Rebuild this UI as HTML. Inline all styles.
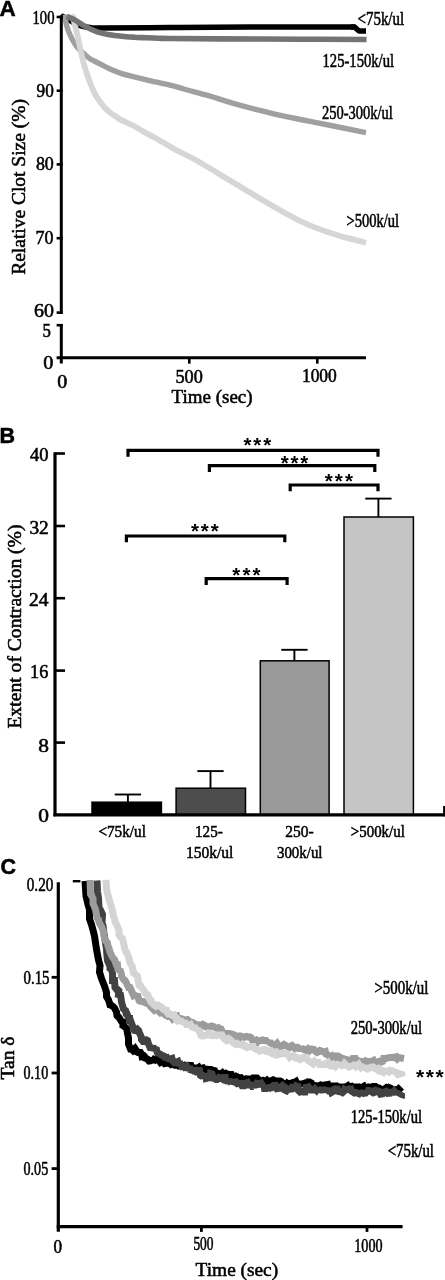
<!DOCTYPE html>
<html lang="en"><head><meta charset="utf-8"><title>Figure</title>
<style>html,body{margin:0;padding:0;background:#fff;overflow:hidden}svg{display:block;filter:grayscale(1) blur(0.35px)}</style></head><body>
<svg width="445" height="1280" viewBox="0 0 445 1280">
<rect width="445" height="1280" fill="#fff"/>
<g id="panelA">
<path d="M63.0,16.5 C64.2,17.2 67.8,19.2 70.0,20.5 C72.2,21.8 74.0,23.1 76.0,24.0 C78.0,24.9 79.7,25.6 82.0,26.2 C84.3,26.8 87.0,27.3 90.0,27.6 C93.0,27.9 86.7,28.0 100.0,28.0 C113.3,28.0 145.0,27.8 170.0,27.6 C195.0,27.4 219.3,27.1 250.0,27.0 C280.7,26.9 336.7,27.0 354.0,27.0" fill="none" stroke="#000" stroke-width="5.5" stroke-linecap="round" stroke-linejoin="round"/>
<polyline points="351.0,27.0 354.5,27.0 359.0,31.0 366.0,31.0" fill="none" stroke="#000" stroke-width="5.5" stroke-linejoin="round" stroke-linecap="butt"/>
<path d="M65.0,16.5 C65.2,17.9 65.7,22.0 66.5,25.0 C67.3,28.0 68.3,31.3 69.9,34.7 C71.5,38.1 73.5,42.2 76.0,45.5 C78.5,48.8 82.4,52.2 84.7,54.4 C87.0,56.6 87.9,57.4 90.0,58.7 C92.1,60.1 93.9,60.8 97.1,62.5 C100.3,64.2 105.3,66.9 109.4,68.7 C113.5,70.5 117.7,72.2 121.8,73.6 C125.9,74.9 130.1,75.8 134.2,76.8 C138.3,77.8 142.4,78.8 146.5,79.8 C150.6,80.8 155.0,81.8 158.9,82.7 C162.8,83.6 165.8,84.0 170.0,85.1 C174.2,86.1 177.4,87.2 183.8,89.0 C190.2,90.8 200.2,93.3 208.5,95.7 C216.8,98.1 225.1,101.0 233.3,103.4 C241.6,105.8 250.2,108.0 258.0,110.0 C265.8,112.0 271.6,113.5 280.3,115.4 C289.0,117.3 295.7,118.4 310.0,121.3 C324.3,124.2 356.7,130.7 366.0,132.6" fill="none" stroke="#a0a0a0" stroke-width="5.4" stroke-linecap="butt" stroke-linejoin="round"/>
<circle cx="65" cy="17" r="2.7" fill="#a0a0a0"/>
<path d="M72.8,16.5 C72.9,17.1 72.8,17.0 73.6,20.0 C74.3,23.0 76.1,29.4 77.3,34.7 C78.5,40.0 79.8,46.6 81.0,52.0 C82.2,57.4 83.2,62.0 84.7,66.9 C86.2,71.9 88.0,77.2 89.7,81.7 C91.4,86.2 93.2,90.5 94.9,93.8 C96.6,97.1 98.2,99.2 99.9,101.5 C101.6,103.8 103.2,105.9 104.8,107.7 C106.4,109.5 108.1,111.0 109.8,112.3 C111.5,113.6 113.0,114.7 114.7,115.8 C116.4,116.9 118.1,118.1 119.7,119.1 C121.3,120.0 122.9,120.7 124.6,121.5 C126.2,122.3 128.0,123.2 129.6,124.0 C131.2,124.8 131.4,124.6 134.0,126.0 C136.6,127.4 141.5,130.5 145.0,132.5 C148.5,134.5 151.7,136.0 155.0,137.8 C158.3,139.7 161.7,141.7 165.0,143.6 C168.3,145.5 172.5,148.1 175.0,149.5 C177.5,150.9 177.5,150.8 180.0,152.0 C182.5,153.2 186.7,155.3 190.0,157.0 C193.3,158.7 195.0,159.5 200.0,162.4 C205.0,165.3 213.3,170.4 220.0,174.4 C226.7,178.4 233.3,182.4 240.0,186.4 C246.7,190.4 253.3,194.6 260.0,198.6 C266.7,202.6 273.3,206.5 280.0,210.2 C286.7,213.9 293.3,217.8 300.0,221.0 C306.7,224.2 313.3,226.9 320.0,229.4 C326.7,231.9 335.2,234.5 340.0,236.0 C344.8,237.5 344.7,237.3 349.0,238.4 C353.3,239.5 363.2,242.0 366.0,242.7" fill="none" stroke="#d6d6d6" stroke-width="5.8" stroke-linecap="butt" stroke-linejoin="round"/>
<circle cx="72.9" cy="17" r="2.9" fill="#d6d6d6"/>
<path d="M66.5,16.6 C67.1,16.8 68.6,17.2 70.0,17.8 C71.4,18.4 72.3,18.5 74.8,19.9 C77.2,21.3 81.0,24.1 84.7,26.1 C88.4,28.1 93.0,30.4 97.1,31.8 C101.2,33.2 105.3,34.0 109.4,34.7 C113.5,35.4 117.7,35.8 121.8,36.2 C125.9,36.6 130.1,36.9 134.2,37.2 C138.3,37.5 142.4,37.6 146.5,37.8 C150.6,38.0 155.0,38.2 158.9,38.3 C162.8,38.4 159.8,38.4 170.0,38.5 C180.2,38.6 198.3,38.8 220.0,38.9 C241.7,39.0 275.6,39.1 300.0,39.2 C324.4,39.3 355.5,39.5 366.6,39.5" fill="none" stroke="#747474" stroke-width="5.6" stroke-linecap="butt" stroke-linejoin="round"/>
<line x1="61.3" y1="15.5" x2="61.3" y2="314" stroke="#000" stroke-width="3" stroke-linecap="butt"/>
<line x1="61.3" y1="324" x2="61.3" y2="363.5" stroke="#000" stroke-width="3" stroke-linecap="butt"/>
<line x1="56.6" y1="357.8" x2="366" y2="357.8" stroke="#000" stroke-width="3" stroke-linecap="butt"/>
<line x1="56.6" y1="17" x2="62.8" y2="17" stroke="#000" stroke-width="2.6" stroke-linecap="butt"/>
<line x1="56.6" y1="90.7" x2="62.8" y2="90.7" stroke="#000" stroke-width="2.6" stroke-linecap="butt"/>
<line x1="56.6" y1="164.4" x2="62.8" y2="164.4" stroke="#000" stroke-width="2.6" stroke-linecap="butt"/>
<line x1="56.6" y1="238.2" x2="62.8" y2="238.2" stroke="#000" stroke-width="2.6" stroke-linecap="butt"/>
<line x1="56.6" y1="312.6" x2="62.8" y2="312.6" stroke="#000" stroke-width="2.6" stroke-linecap="butt"/>
<line x1="56.6" y1="325.2" x2="62.8" y2="325.2" stroke="#000" stroke-width="2.6" stroke-linecap="butt"/>
<line x1="189.3" y1="357" x2="189.3" y2="363.7" stroke="#000" stroke-width="2.6" stroke-linecap="butt"/>
<line x1="317.3" y1="357" x2="317.3" y2="363.7" stroke="#000" stroke-width="2.6" stroke-linecap="butt"/>
<text x="32.56" y="23.8" font-size="18.5" font-family='"Liberation Serif", serif' font-weight="normal" stroke="#000" stroke-width="0.55" textLength="21.93" lengthAdjust="spacingAndGlyphs">100</text>
<text x="36.58" y="97.0" font-size="18.5" font-family='"Liberation Serif", serif' font-weight="normal" stroke="#000" stroke-width="0.55" textLength="17.20" lengthAdjust="spacingAndGlyphs">90</text>
<text x="35.88" y="170.3" font-size="18.5" font-family='"Liberation Serif", serif' font-weight="normal" stroke="#000" stroke-width="0.55" textLength="17.93" lengthAdjust="spacingAndGlyphs">80</text>
<text x="35.43" y="244.1" font-size="18.5" font-family='"Liberation Serif", serif' font-weight="normal" stroke="#000" stroke-width="0.55" textLength="17.99" lengthAdjust="spacingAndGlyphs">70</text>
<text x="34.10" y="317.0" font-size="18.5" font-family='"Liberation Serif", serif' font-weight="normal" stroke="#000" stroke-width="0.55" textLength="19.89" lengthAdjust="spacingAndGlyphs">60</text>
<text x="42.49" y="336.6" font-size="18.5" font-family='"Liberation Serif", serif' font-weight="normal" stroke="#000" stroke-width="0.55" textLength="8.38" lengthAdjust="spacingAndGlyphs">5</text>
<text x="43.39" y="369.2" font-size="18.5" font-family='"Liberation Serif", serif' font-weight="normal" stroke="#000" stroke-width="0.55" textLength="10.12" lengthAdjust="spacingAndGlyphs">0</text>
<text x="57.30" y="387.6" font-size="18.5" font-family='"Liberation Serif", serif' font-weight="normal" stroke="#000" stroke-width="0.55" textLength="10.00" lengthAdjust="spacingAndGlyphs">0</text>
<text x="175.51" y="383.0" font-size="18.5" font-family='"Liberation Serif", serif' font-weight="normal" stroke="#000" stroke-width="0.55" textLength="27.32" lengthAdjust="spacingAndGlyphs">500</text>
<text x="301.92" y="382.4" font-size="18.5" font-family='"Liberation Serif", serif' font-weight="normal" stroke="#000" stroke-width="0.55" textLength="34.88" lengthAdjust="spacingAndGlyphs">1000</text>
<text x="171.62" y="402.6" font-size="19.5" font-family='"Liberation Serif", serif' font-weight="normal" stroke="#000" stroke-width="0.55" textLength="81.00" lengthAdjust="spacingAndGlyphs">Time (sec)</text>
<text transform="translate(25.4,274.78) rotate(-90)" font-size="19.8" font-family='"Liberation Serif", serif' stroke="#000" stroke-width="0.55" textLength="175.67" lengthAdjust="spacingAndGlyphs">Relative Clot Size (%)</text>
<text x="357.55" y="25.3" font-size="19" font-family='"Liberation Serif", serif' font-weight="normal" stroke="#000" stroke-width="0.55" textLength="46.54" lengthAdjust="spacingAndGlyphs">&lt;75k/ul</text>
<text x="322.56" y="67.2" font-size="19" font-family='"Liberation Serif", serif' font-weight="normal" stroke="#000" stroke-width="0.55" textLength="71.52" lengthAdjust="spacingAndGlyphs">125-150k/ul</text>
<text x="321.95" y="119.2" font-size="19" font-family='"Liberation Serif", serif' font-weight="normal" stroke="#000" stroke-width="0.55" textLength="70.92" lengthAdjust="spacingAndGlyphs">250-300k/ul</text>
<text x="346.47" y="227.1" font-size="19" font-family='"Liberation Serif", serif' font-weight="normal" stroke="#000" stroke-width="0.55" textLength="52.61" lengthAdjust="spacingAndGlyphs">&gt;500k/ul</text>
<text x="-0.56" y="15.8" font-size="22.5" font-weight="bold" font-family='"Liberation Sans", sans-serif' stroke="#000" stroke-width="0.5">A</text>
</g>
<g id="panelB">
<line x1="127.9" y1="802.2" x2="127.9" y2="794.5" stroke="#000" stroke-width="1.9" stroke-linecap="butt"/>
<line x1="114.75" y1="794.5" x2="141.05" y2="794.5" stroke="#000" stroke-width="1.9" stroke-linecap="butt"/>
<rect x="92" y="802.2" width="69.4" height="12.799999999999955" fill="#000" stroke="#000" stroke-width="1.5"/>
<line x1="210.5" y1="788.2" x2="210.5" y2="771.1" stroke="#000" stroke-width="1.9" stroke-linecap="butt"/>
<line x1="197.35" y1="771.1" x2="223.65" y2="771.1" stroke="#000" stroke-width="1.9" stroke-linecap="butt"/>
<rect x="176.1" y="788.2" width="69.4" height="26.799999999999955" fill="#4d4d4d" stroke="#000" stroke-width="1.5"/>
<line x1="294.40000000000003" y1="660.8" x2="294.40000000000003" y2="649.8" stroke="#000" stroke-width="1.9" stroke-linecap="butt"/>
<line x1="281.25000000000006" y1="649.8" x2="307.55" y2="649.8" stroke="#000" stroke-width="1.9" stroke-linecap="butt"/>
<rect x="260.3" y="660.8" width="68.8" height="154.20000000000005" fill="#999999" stroke="#000" stroke-width="1.5"/>
<line x1="378.4" y1="517" x2="378.4" y2="498.6" stroke="#000" stroke-width="1.9" stroke-linecap="butt"/>
<line x1="365.25" y1="498.6" x2="391.54999999999995" y2="498.6" stroke="#000" stroke-width="1.9" stroke-linecap="butt"/>
<rect x="344" y="517" width="69.4" height="298" fill="#c5c5c5" stroke="#000" stroke-width="1.5"/>
<line x1="55" y1="452.2" x2="55" y2="816.2" stroke="#000" stroke-width="3.2" stroke-linecap="butt"/>
<line x1="53.4" y1="814.9" x2="445" y2="814.9" stroke="#000" stroke-width="3.1" stroke-linecap="butt"/>
<line x1="444.6" y1="806" x2="444.6" y2="816.2" stroke="#000" stroke-width="3" stroke-linecap="butt"/>
<line x1="55" y1="453.5" x2="65" y2="453.5" stroke="#000" stroke-width="2.6" stroke-linecap="butt"/>
<line x1="55" y1="526" x2="65" y2="526" stroke="#000" stroke-width="2.6" stroke-linecap="butt"/>
<line x1="55" y1="598.2" x2="65" y2="598.2" stroke="#000" stroke-width="2.6" stroke-linecap="butt"/>
<line x1="55" y1="670.6" x2="65" y2="670.6" stroke="#000" stroke-width="2.6" stroke-linecap="butt"/>
<line x1="55" y1="742.6" x2="65" y2="742.6" stroke="#000" stroke-width="2.6" stroke-linecap="butt"/>
<text x="29.93" y="461.3" font-size="18.5" font-family='"Liberation Serif", serif' font-weight="normal" stroke="#000" stroke-width="0.55" textLength="18.51" lengthAdjust="spacingAndGlyphs">40</text>
<text x="29.43" y="533.8" font-size="18.5" font-family='"Liberation Serif", serif' font-weight="normal" stroke="#000" stroke-width="0.55" textLength="19.33" lengthAdjust="spacingAndGlyphs">32</text>
<text x="28.92" y="605.8" font-size="18.5" font-family='"Liberation Serif", serif' font-weight="normal" stroke="#000" stroke-width="0.55" textLength="19.57" lengthAdjust="spacingAndGlyphs">24</text>
<text x="30.05" y="678.2" font-size="18.5" font-family='"Liberation Serif", serif' font-weight="normal" stroke="#000" stroke-width="0.55" textLength="18.19" lengthAdjust="spacingAndGlyphs">16</text>
<text x="38.34" y="751.8" font-size="18.5" font-family='"Liberation Serif", serif' font-weight="normal" stroke="#000" stroke-width="0.55" textLength="10.71" lengthAdjust="spacingAndGlyphs">8</text>
<text x="38.34" y="822.2" font-size="18.5" font-family='"Liberation Serif", serif' font-weight="normal" stroke="#000" stroke-width="0.55" textLength="10.71" lengthAdjust="spacingAndGlyphs">0</text>
<path d="M128,456.7 V450.4 H378 V456.7" fill="none" stroke="#000" stroke-width="3.2" stroke-linejoin="miter"/>
<text x="243.40" y="451.76" font-size="20.5" font-weight="bold" font-family='"Liberation Sans", sans-serif' letter-spacing="1.98">***</text>
<path d="M209.4,471.90000000000003 V465.6 H374.8 V471.90000000000003" fill="none" stroke="#000" stroke-width="3.2" stroke-linejoin="miter"/>
<text x="280.80" y="469.76" font-size="20.5" font-weight="bold" font-family='"Liberation Sans", sans-serif' letter-spacing="1.78">***</text>
<path d="M290.2,491.3 V485 H378 V491.3" fill="none" stroke="#000" stroke-width="3.2" stroke-linejoin="miter"/>
<text x="324.70" y="488.06" font-size="20.5" font-weight="bold" font-family='"Liberation Sans", sans-serif' letter-spacing="2.18">***</text>
<path d="M126.4,542.3 V536 H284.8 V542.3" fill="none" stroke="#000" stroke-width="3.2" stroke-linejoin="miter"/>
<text x="190.90" y="537.76" font-size="20.5" font-weight="bold" font-family='"Liberation Sans", sans-serif' letter-spacing="1.98">***</text>
<path d="M206.2,585.0 V578.7 H287.1 V585.0" fill="none" stroke="#000" stroke-width="3.2" stroke-linejoin="miter"/>
<text x="232.20" y="581.76" font-size="20.5" font-weight="bold" font-family='"Liberation Sans", sans-serif' letter-spacing="2.23">***</text>
<text x="98.44" y="836.6" font-size="17.5" font-family='"Liberation Serif", serif' font-weight="normal" stroke="#000" stroke-width="0.55" textLength="47.46" lengthAdjust="spacingAndGlyphs">&lt;75k/ul</text>
<text x="195.01" y="836.6" font-size="17.5" font-family='"Liberation Serif", serif' font-weight="normal" stroke="#000" stroke-width="0.55" textLength="27.76" lengthAdjust="spacingAndGlyphs">125-</text>
<text x="185.98" y="858.1" font-size="17.5" font-family='"Liberation Serif", serif' font-weight="normal" stroke="#000" stroke-width="0.55" textLength="47.46" lengthAdjust="spacingAndGlyphs">150k/ul</text>
<text x="285.30" y="836.6" font-size="17.5" font-family='"Liberation Serif", serif' font-weight="normal" stroke="#000" stroke-width="0.55" textLength="28.39" lengthAdjust="spacingAndGlyphs">250-</text>
<text x="276.93" y="858.1" font-size="17.5" font-family='"Liberation Serif", serif' font-weight="normal" stroke="#000" stroke-width="0.55" textLength="45.60" lengthAdjust="spacingAndGlyphs">300k/ul</text>
<text x="350.85" y="836.6" font-size="17.5" font-family='"Liberation Serif", serif' font-weight="normal" stroke="#000" stroke-width="0.55" textLength="53.94" lengthAdjust="spacingAndGlyphs">&gt;500k/ul</text>
<text transform="translate(21.3,728.39) rotate(-90)" font-size="19.8" font-family='"Liberation Serif", serif' stroke="#000" stroke-width="0.55" textLength="203.84" lengthAdjust="spacingAndGlyphs">Extent of Contraction (%)</text>
<text x="-0.60" y="443.2" font-size="21.5" font-weight="bold" font-family='"Liberation Sans", sans-serif' stroke="#000" stroke-width="0.5">B</text>
</g>
<g id="panelC">
<polyline points="85.0,881.0 86.0,896.0 88.0,904.5 89.5,909.5 89.5,919.0 91.5,924.5 93.0,930.0 94.5,936.0 96.0,946.0 97.0,952.0 98.5,960.0 100.0,965.5 99.5,972.0 101.5,978.5 103.5,983.5 105.0,987.5 106.5,992.5 106.5,996.5 108.5,1000.0 109.5,1003.0 110.0,1005.0 111.5,1005.5 113.0,1006.5 114.5,1008.0 116.5,1012.0 117.0,1015.5 119.0,1017.5 120.0,1019.0 121.5,1021.5 123.5,1022.0 123.0,1025.5 124.5,1026.5 126.5,1028.5 128.5,1038.0 128.5,1044.0 130.5,1049.0 131.5,1049.0 133.0,1050.5 135.0,1048.5 136.0,1050.0 136.0,1051.5 138.0,1052.5 140.5,1052.5 141.5,1054.0 142.0,1056.5 144.0,1056.0 144.5,1056.5 145.0,1058.0 147.5,1059.0 148.5,1060.5 149.0,1061.0 152.0,1060.5 152.5,1061.5 154.0,1059.5 155.0,1060.0 155.5,1059.5 158.0,1059.0 159.5,1061.0 160.5,1062.5 161.5,1062.0 162.0,1062.0 164.0,1061.5 165.0,1063.5 167.5,1063.0 168.0,1062.5 169.0,1063.0 171.0,1064.5 172.5,1064.0 172.5,1064.0 174.0,1063.0 176.5,1067.0 177.0,1066.0 178.5,1066.0 179.5,1065.5 181.5,1066.0 181.5,1066.5 184.0,1065.5 185.0,1067.0 186.5,1067.0 188.0,1066.5 189.5,1065.5 191.0,1065.5 192.0,1068.0 193.5,1068.0 193.5,1068.5 196.0,1069.0 197.0,1068.5 198.5,1067.5 199.5,1069.5 200.5,1067.5 201.0,1068.5 203.0,1068.0 204.0,1069.5 206.5,1071.0 206.0,1069.0 208.0,1069.5 210.0,1069.5 210.5,1071.0 212.0,1070.0 214.0,1070.5 214.0,1073.0 217.0,1073.0 218.0,1073.5 219.0,1074.5 220.0,1074.5 222.0,1073.0 223.0,1074.5 224.5,1073.5 224.5,1075.0 226.0,1073.5 227.0,1074.0 229.0,1074.5 231.0,1074.5 231.5,1076.5 233.0,1077.5 234.0,1075.0 236.0,1076.5 236.5,1076.5 238.5,1078.5 239.0,1077.5 240.5,1078.0 243.0,1077.5 242.5,1079.5 245.5,1079.0 246.5,1079.0 248.0,1077.5 248.5,1079.0 250.0,1079.0 251.0,1080.0 253.0,1078.0 254.0,1078.0 254.5,1078.0 257.0,1078.0 257.5,1078.5 258.5,1079.5 260.5,1081.0 262.0,1081.5 262.5,1081.5 263.5,1080.5 266.0,1081.5 267.0,1080.5 267.5,1081.0 269.0,1081.0 270.0,1081.5 272.0,1080.5 272.5,1081.5 274.5,1080.5 276.5,1081.5 276.5,1083.0 278.0,1081.0 280.0,1081.0 281.0,1081.5 283.0,1083.5 284.5,1081.0 284.5,1081.5 286.0,1082.5 288.0,1083.5 288.5,1084.5 289.5,1082.0 291.0,1083.5 293.0,1082.5 294.5,1082.5 296.0,1081.5 297.0,1083.5 298.5,1084.5 300.0,1082.0 300.5,1083.0 303.0,1084.5 303.0,1082.5 305.0,1083.5 305.5,1084.5 306.5,1084.5 308.0,1082.0 309.5,1082.0 311.0,1083.0 313.0,1084.0 313.5,1083.5 314.5,1086.0 316.5,1086.5 318.5,1084.5 318.5,1083.5 321.0,1086.0 322.0,1086.5 323.5,1085.5 324.0,1087.0 324.5,1085.0 327.5,1084.5 328.0,1087.0 329.5,1086.0 331.0,1087.5 331.5,1087.0 332.5,1086.0 334.5,1086.0 336.0,1086.0 337.0,1086.5 339.0,1085.5 339.0,1087.0 340.5,1087.0 341.5,1087.0 344.0,1087.5 345.5,1086.0 346.0,1087.0 347.5,1086.0 348.5,1088.0 350.5,1087.5 350.5,1086.5 353.5,1086.0 353.0,1087.5 354.5,1088.0 356.0,1087.0 357.0,1085.5 358.5,1087.5 361.0,1086.5 361.0,1088.0 363.5,1086.5 365.0,1090.0 364.5,1086.5 366.5,1088.0 368.5,1087.0 369.0,1087.0 371.5,1088.0 372.0,1087.5 373.0,1086.5 375.0,1086.5 375.5,1087.5 377.0,1087.5 379.0,1088.0 380.5,1089.0 382.0,1088.0 382.0,1090.0 383.5,1090.5 384.5,1089.0 386.5,1087.5 388.5,1088.5 389.0,1090.5 390.0,1088.0 391.0,1088.5 393.0,1090.5 393.5,1089.0 396.5,1091.0 396.5,1091.0 398.5,1089.0 400.0,1090.5 400.0,1090.5 401.5,1092.0" fill="none" stroke="#000" stroke-width="7.0" stroke-linejoin="miter" stroke-miterlimit="1.6" stroke-linecap="butt"/>
<polyline points="97.0,880.5 97.5,891.5 98.5,898.0 99.0,907.5 100.5,910.0 102.5,914.5 102.0,923.0 103.0,925.5 104.0,933.5 106.5,949.0 107.0,956.0 107.5,960.5 110.0,966.5 110.0,968.5 112.0,970.0 112.5,974.0 112.5,980.5 114.5,980.5 115.0,987.5 116.5,989.5 119.0,989.0 118.5,994.5 120.5,995.0 121.0,998.0 121.5,1002.0 123.5,1009.0 125.5,1010.5 126.5,1015.5 127.5,1015.0 129.0,1018.5 129.5,1018.5 129.5,1020.5 130.5,1020.5 132.0,1024.5 133.5,1028.5 134.0,1030.0 135.0,1032.0 137.5,1029.5 138.5,1030.5 138.0,1034.0 139.5,1033.0 141.5,1037.5 141.5,1039.5 143.0,1041.5 144.5,1041.5 145.0,1041.0 146.5,1040.0 147.5,1040.5 148.5,1044.0 150.0,1047.5 150.5,1047.5 152.5,1048.0 153.0,1047.0 155.0,1049.5 156.0,1047.5 157.0,1052.0 157.5,1053.0 159.5,1053.0 160.5,1052.5 160.5,1054.0 161.0,1055.0 164.0,1056.0 164.5,1057.0 166.0,1057.0 165.5,1055.0 167.0,1058.0 169.0,1059.5 169.0,1061.5 170.5,1059.0 172.0,1058.5 172.5,1060.5 174.0,1062.5 176.0,1064.0 176.0,1062.5 178.0,1061.5 179.5,1065.5 179.5,1064.0 180.5,1064.0 181.5,1066.0 183.0,1068.5 184.5,1065.0 185.0,1064.5 185.5,1066.5 186.5,1066.0 188.0,1070.0 189.5,1067.0 191.0,1070.0 191.0,1072.5 192.0,1071.0 193.5,1071.0 195.5,1070.5 196.5,1072.0 198.0,1072.0 198.5,1070.5 199.5,1070.5 200.5,1075.5 202.5,1076.5 202.0,1074.5 204.0,1076.0 205.5,1076.5 206.0,1078.5 208.0,1078.0 207.5,1078.5 210.0,1077.0 210.5,1073.5 212.0,1074.0 213.5,1079.0 214.0,1080.5 215.0,1078.5 216.0,1079.5 217.0,1079.5 219.0,1077.5 220.0,1078.0 220.0,1081.5 221.0,1078.5 222.0,1080.0 223.5,1077.5 225.0,1077.5 225.0,1083.0 227.0,1079.5 228.0,1083.5 229.0,1080.5 231.0,1083.5 231.0,1082.5 233.0,1080.0 233.0,1084.5 235.0,1080.5 235.5,1081.0 237.0,1083.5 238.5,1084.5 239.5,1081.5 241.0,1084.0 240.5,1084.5 241.5,1085.0 243.0,1087.5 245.0,1084.0 245.0,1083.5 246.0,1083.0 247.5,1082.5 249.5,1087.0 250.5,1084.0 251.0,1083.0 252.5,1086.5 254.0,1086.5 254.5,1087.5 255.5,1083.0 256.0,1087.0 257.0,1083.5 259.0,1084.0 259.0,1083.5 261.0,1083.0 262.0,1084.5 262.5,1086.5 264.0,1085.5 264.5,1088.5 266.0,1088.5 268.5,1088.5 268.0,1089.5 270.5,1087.5 271.5,1086.0 271.5,1085.0 273.0,1085.5 273.5,1086.5 275.0,1085.5 277.5,1085.0 277.0,1089.0 278.0,1090.5 279.0,1087.5 280.5,1088.0 282.0,1086.0 282.5,1085.5 284.5,1087.0 285.0,1092.0 286.5,1091.0 288.5,1091.5 287.5,1089.5 289.0,1089.0 290.5,1091.0 292.0,1087.0 293.0,1086.0 294.0,1088.0 295.0,1087.5 296.0,1087.5 296.5,1086.0 298.0,1086.5 298.5,1090.5 300.0,1092.0 301.5,1091.5 303.0,1092.0 304.0,1092.0 305.0,1092.0 306.0,1087.5 307.5,1087.5 308.5,1087.0 309.5,1088.5 310.5,1089.0 312.0,1092.0 313.5,1089.0 313.5,1091.0 315.0,1089.0 316.5,1090.5 318.0,1088.5 317.5,1092.0 319.0,1088.5 320.5,1090.5 322.0,1088.0 322.5,1090.0 323.5,1090.0 324.0,1091.5 326.0,1088.5 327.0,1091.5 328.0,1089.5 329.0,1091.0 331.0,1091.0 330.5,1090.0 331.5,1092.5 334.0,1091.0 334.0,1089.5 335.0,1089.0 337.0,1089.0 337.5,1089.0 338.5,1091.5 341.0,1092.0 341.0,1093.5 342.0,1093.0 344.0,1091.0 344.5,1089.5 345.5,1090.0 347.5,1089.5 348.0,1091.0 349.5,1089.5 350.0,1086.5 351.5,1090.5 352.5,1093.0 352.5,1093.5 354.0,1093.0 356.0,1092.5 356.0,1092.5 358.5,1093.5 359.5,1091.5 360.0,1092.5 362.0,1093.0 362.5,1091.5 364.0,1093.5 364.5,1094.5 366.0,1092.5 366.0,1091.5 367.5,1093.5 368.5,1090.5 369.0,1090.5 371.5,1091.0 371.5,1093.5 374.0,1092.5 373.5,1090.0 376.0,1090.5 376.0,1092.5 378.0,1091.5 379.5,1091.5 380.5,1092.0 381.0,1095.0 381.5,1095.5 383.5,1091.0 384.0,1092.0 385.5,1091.5 387.0,1094.5 387.5,1093.0 389.0,1095.0 390.5,1091.5 391.0,1091.0 392.0,1093.0 393.5,1091.5 394.0,1091.0 396.0,1093.5 396.5,1094.5 396.5,1094.0 399.0,1092.0 399.0,1095.0 401.5,1093.5 401.5,1096.5 403.0,1095.0" fill="none" stroke="#424242" stroke-width="7.0" stroke-linejoin="miter" stroke-miterlimit="1.6" stroke-linecap="butt"/>
<polyline points="90.0,880.0 90.5,894.0 93.0,898.5 93.0,903.5 95.5,909.5 97.0,918.0 98.5,919.5 99.0,922.0 100.0,924.0 101.5,926.5 103.5,931.5 104.0,936.0 105.0,940.5 107.5,943.0 108.0,946.0 109.0,948.5 110.0,952.0 112.0,956.5 113.5,958.5 114.5,959.5 116.5,965.0 117.5,965.0 118.0,969.5 120.5,971.0 121.5,974.5 121.5,976.0 124.0,980.0 125.0,980.5 126.5,983.0 127.0,984.5 128.5,987.5 130.0,987.5 131.5,990.5 132.0,992.0 133.5,995.5 134.5,995.0 137.0,996.5 138.0,996.5 139.0,1000.5 139.5,1001.0 142.0,1001.5 143.5,1001.5 144.0,1002.0 145.0,1002.5 147.0,1003.5 148.5,1004.0 149.0,1004.0 150.5,1006.5 151.5,1007.5 154.0,1010.0 154.5,1009.5 156.0,1009.0 158.5,1011.0 158.0,1010.5 160.5,1013.0 160.5,1013.0 162.0,1012.5 163.5,1013.0 165.5,1015.0 166.5,1015.5 168.0,1016.5 170.0,1016.5 170.5,1015.0 171.5,1017.0 172.5,1018.5 174.5,1016.5 176.5,1016.0 177.0,1019.5 178.5,1019.5 179.0,1018.5 180.5,1018.5 182.0,1019.0 183.0,1020.5 185.5,1020.0 185.5,1022.5 187.0,1023.5 189.5,1021.5 190.5,1022.5 191.0,1022.0 191.5,1023.0 194.5,1022.0 194.5,1023.5 196.5,1025.0 198.0,1023.0 199.0,1025.0 200.0,1025.5 200.5,1026.5 203.0,1024.5 205.0,1025.5 205.5,1026.5 207.0,1028.5 207.5,1025.5 208.5,1026.5 210.5,1026.5 211.5,1026.0 213.5,1026.5 213.5,1026.5 216.0,1028.0 217.0,1029.0 218.5,1028.0 219.0,1028.5 221.0,1029.0 222.0,1031.0 223.5,1035.0 224.0,1033.0 227.0,1034.0 227.5,1034.5 229.5,1032.0 230.5,1034.0 232.5,1035.0 232.0,1034.0 233.5,1034.5 234.5,1036.5 236.0,1036.0 238.5,1036.0 238.5,1037.5 240.0,1038.5 242.5,1037.0 243.5,1037.5 244.0,1037.0 246.5,1036.5 247.5,1037.0 248.5,1037.0 250.0,1037.0 251.0,1037.5 252.5,1040.5 254.0,1040.5 254.0,1041.5 256.5,1042.5 257.5,1040.5 258.5,1041.0 259.5,1041.0 261.5,1040.5 262.5,1040.0 263.5,1040.5 266.0,1040.5 267.5,1042.0 267.5,1042.5 269.5,1042.0 270.0,1041.5 271.5,1044.0 272.5,1043.0 273.5,1046.5 276.0,1044.5 277.0,1043.5 278.0,1045.0 279.5,1046.0 280.5,1044.5 281.5,1046.5 284.0,1044.5 285.0,1045.0 286.0,1047.0 286.5,1046.5 288.0,1047.0 289.5,1047.5 291.0,1046.0 292.0,1045.5 294.5,1048.0 295.5,1047.0 296.0,1046.0 298.0,1048.0 298.5,1048.5 301.0,1048.5 301.0,1047.5 302.0,1048.5 305.0,1049.5 305.0,1050.0 306.5,1050.5 308.0,1049.0 309.5,1050.5 311.0,1049.0 311.5,1049.0 314.0,1049.5 314.0,1049.5 315.5,1051.5 317.0,1052.5 319.0,1051.5 320.0,1050.5 321.5,1051.0 323.0,1051.5 324.5,1052.5 325.5,1052.0 326.0,1054.0 327.5,1055.0 329.5,1056.0 330.5,1057.0 332.0,1056.0 333.0,1057.5 334.5,1058.5 336.0,1056.0 336.5,1056.0 338.0,1056.0 339.0,1056.5 341.0,1059.0 342.0,1058.0 343.5,1057.0 343.5,1060.5 346.5,1058.0 347.0,1059.5 349.5,1060.5 350.5,1058.0 350.5,1060.0 352.0,1061.0 353.0,1058.5 355.5,1058.5 356.5,1060.5 357.0,1058.5 358.0,1061.5 359.5,1061.5 361.0,1062.5 362.5,1061.5 363.5,1061.5 365.0,1062.5 366.0,1061.0 367.5,1061.5 369.5,1061.5 370.5,1063.0 371.5,1061.5 373.5,1060.5 374.0,1061.5 376.5,1063.0 377.0,1062.0 378.5,1061.5 379.0,1062.0 381.5,1062.0 382.5,1061.5 383.5,1058.5 384.5,1058.5 386.0,1058.5 387.0,1058.0 389.5,1057.5 390.0,1057.5 391.0,1059.0 392.0,1057.5 395.0,1057.0 395.5,1057.5 396.5,1057.0 397.5,1058.5 398.5,1057.5 401.0,1058.0 401.0,1058.0 404.0,1058.5" fill="none" stroke="#9c9c9c" stroke-width="7.0" stroke-linejoin="miter" stroke-miterlimit="1.6" stroke-linecap="butt"/>
<polyline points="106.0,879.5 106.5,888.5 108.0,895.5 110.0,902.5 111.5,907.0 112.5,911.0 113.5,916.0 115.0,920.5 115.0,922.0 117.0,925.0 119.0,930.5 119.0,934.5 120.5,937.0 122.5,938.5 123.5,942.5 124.5,948.0 126.0,952.0 127.0,953.0 129.0,958.5 130.0,963.0 132.0,966.0 132.5,967.5 133.5,973.0 135.5,974.5 137.5,976.5 138.0,980.0 139.0,985.0 140.5,985.5 141.0,987.0 143.5,989.5 144.5,991.5 145.5,993.5 148.0,995.0 148.5,997.0 150.5,1001.0 151.5,1001.0 152.5,1003.5 153.5,1004.5 155.5,1006.0 156.5,1005.0 157.5,1005.0 158.0,1006.0 159.5,1006.0 161.5,1007.0 162.5,1008.5 163.5,1009.5 166.0,1010.0 166.0,1010.5 167.5,1013.0 169.5,1015.5 170.0,1014.0 172.5,1015.5 174.0,1015.0 175.0,1017.0 176.5,1018.0 176.5,1020.0 177.5,1021.0 179.0,1020.5 181.0,1021.0 183.0,1022.0 184.0,1022.0 184.5,1021.5 187.0,1025.5 187.5,1026.5 188.0,1025.5 190.5,1024.5 191.5,1026.5 193.5,1028.0 194.0,1026.0 195.5,1028.5 196.0,1030.0 198.0,1028.5 198.5,1030.5 200.0,1032.0 201.0,1035.5 202.5,1036.0 204.5,1035.5 205.0,1035.5 207.5,1035.0 208.5,1033.0 209.5,1033.0 211.0,1034.5 211.5,1035.5 214.0,1035.5 215.0,1034.5 216.5,1033.5 217.0,1035.0 219.0,1037.0 219.0,1035.0 222.0,1035.0 222.5,1036.0 223.5,1038.0 225.0,1039.5 226.5,1040.5 228.5,1038.5 229.5,1039.0 230.0,1039.5 231.0,1040.5 233.5,1043.0 235.0,1044.0 236.0,1044.5 237.5,1043.5 237.5,1043.5 240.0,1045.5 240.0,1044.0 243.0,1045.5 243.5,1044.5 245.0,1045.5 246.5,1048.0 247.0,1047.0 249.0,1049.0 249.0,1047.0 250.5,1046.5 253.0,1046.5 253.5,1049.5 255.0,1048.5 256.5,1049.0 258.5,1051.0 259.0,1049.5 260.0,1051.0 262.5,1050.0 263.0,1049.5 264.0,1049.5 264.5,1052.0 266.5,1051.0 267.5,1050.5 270.0,1050.5 270.5,1052.5 272.0,1053.5 273.5,1052.0 275.5,1052.0 276.0,1052.0 277.0,1055.0 279.5,1054.5 280.5,1054.0 282.0,1053.0 282.0,1053.0 284.0,1053.5 285.5,1053.5 286.5,1053.5 287.5,1054.0 289.5,1057.0 290.0,1056.5 292.0,1056.5 292.0,1056.0 293.5,1055.5 295.5,1058.0 296.5,1058.0 298.5,1056.5 299.0,1059.0 300.0,1059.5 301.5,1058.0 304.0,1057.5 304.5,1057.5 306.0,1060.0 307.0,1059.0 308.0,1060.5 309.5,1061.5 312.0,1063.0 312.5,1063.0 313.0,1063.5 314.5,1061.5 315.5,1062.5 318.5,1062.5 319.0,1063.5 319.5,1064.5 322.5,1064.5 322.5,1063.0 324.0,1064.0 326.0,1064.0 326.5,1063.5 328.0,1062.5 329.5,1065.0 330.5,1066.0 331.5,1066.0 333.0,1065.0 333.5,1064.5 335.5,1066.5 337.5,1064.5 338.0,1064.5 340.0,1064.5 340.0,1064.0 342.0,1065.5 343.5,1065.0 344.5,1063.5 346.5,1065.5 348.0,1066.5 349.0,1067.0 351.0,1066.0 352.0,1065.0 352.0,1064.5 353.5,1065.0 355.0,1065.0 356.0,1066.5 358.5,1064.5 359.5,1066.5 361.0,1066.5 361.5,1067.5 364.0,1066.0 364.0,1066.5 365.5,1068.0 367.5,1069.0 369.0,1068.0 369.0,1068.5 370.5,1067.5 372.0,1067.0 373.5,1067.0 375.0,1068.5 376.5,1068.5 378.0,1070.0 379.0,1069.0 380.5,1070.5 381.5,1071.5 382.5,1072.0 383.0,1070.5 386.0,1071.5 386.5,1071.5 387.0,1069.5 389.0,1071.5 390.0,1070.5 392.0,1071.0 392.5,1071.0 395.0,1071.0 395.5,1070.5 396.0,1072.0 398.0,1074.5 400.0,1074.0 401.5,1072.5 402.5,1076.5" fill="none" stroke="#d4d4d4" stroke-width="7.0" stroke-linejoin="miter" stroke-miterlimit="1.6" stroke-linecap="butt"/>
<rect x="60" y="860" width="385" height="19.6" fill="#fff"/>
<line x1="72.8" y1="881.2" x2="80.4" y2="881.2" stroke="#000" stroke-width="2.4" stroke-linecap="butt"/>
<line x1="58.3" y1="882.2" x2="58.3" y2="1231.8" stroke="#000" stroke-width="3.2" stroke-linecap="butt"/>
<line x1="56.7" y1="1226.7" x2="402.6" y2="1226.7" stroke="#000" stroke-width="3.2" stroke-linecap="butt"/>
<line x1="51.6" y1="977.3" x2="58" y2="977.3" stroke="#000" stroke-width="2.8" stroke-linecap="butt"/>
<line x1="51.6" y1="1073" x2="58" y2="1073" stroke="#000" stroke-width="2.8" stroke-linecap="butt"/>
<line x1="51.6" y1="1168.6" x2="58" y2="1168.6" stroke="#000" stroke-width="2.8" stroke-linecap="butt"/>
<line x1="201.4" y1="1226" x2="201.4" y2="1231.9" stroke="#000" stroke-width="2.8" stroke-linecap="butt"/>
<line x1="367" y1="1226" x2="367" y2="1231.9" stroke="#000" stroke-width="2.8" stroke-linecap="butt"/>
<text x="26.79" y="891.3" font-size="18" font-family='"Liberation Serif", serif' font-weight="normal" stroke="#000" stroke-width="0.55" textLength="26.51" lengthAdjust="spacingAndGlyphs">0.20</text>
<text x="23.51" y="984.4" font-size="18" font-family='"Liberation Serif", serif' font-weight="normal" stroke="#000" stroke-width="0.55" textLength="25.99" lengthAdjust="spacingAndGlyphs">0.15</text>
<text x="23.54" y="1078.6" font-size="18" font-family='"Liberation Serif", serif' font-weight="normal" stroke="#000" stroke-width="0.55" textLength="24.63" lengthAdjust="spacingAndGlyphs">0.10</text>
<text x="23.54" y="1174.5" font-size="18" font-family='"Liberation Serif", serif' font-weight="normal" stroke="#000" stroke-width="0.55" textLength="24.63" lengthAdjust="spacingAndGlyphs">0.05</text>
<text x="53.61" y="1253.2" font-size="18" font-family='"Liberation Serif", serif' font-weight="normal" stroke="#000" stroke-width="0.55" textLength="8.57" lengthAdjust="spacingAndGlyphs">0</text>
<text x="193.39" y="1250.2" font-size="18" font-family='"Liberation Serif", serif' font-weight="normal" stroke="#000" stroke-width="0.55" textLength="20.14" lengthAdjust="spacingAndGlyphs">500</text>
<text x="354.30" y="1252.2" font-size="18" font-family='"Liberation Serif", serif' font-weight="normal" stroke="#000" stroke-width="0.55" textLength="28.27" lengthAdjust="spacingAndGlyphs">1000</text>
<text x="195.61" y="1275.7" font-size="19.5" font-family='"Liberation Serif", serif' font-weight="normal" stroke="#000" stroke-width="0.55" textLength="82.52" lengthAdjust="spacingAndGlyphs">Time (sec)</text>
<text transform="translate(13.5,1079.59) rotate(-90)" font-size="18" font-family='"Liberation Serif", serif' stroke="#000" stroke-width="0.55" textLength="43.09" lengthAdjust="spacingAndGlyphs">Tan δ</text>
<text x="374.45" y="993.5" font-size="18" font-family='"Liberation Serif", serif' font-weight="normal" stroke="#000" stroke-width="0.55" textLength="54.04" lengthAdjust="spacingAndGlyphs">&gt;500k/ul</text>
<text x="350.64" y="1034.3" font-size="18" font-family='"Liberation Serif", serif' font-weight="normal" stroke="#000" stroke-width="0.55" textLength="71.43" lengthAdjust="spacingAndGlyphs">250-300k/ul</text>
<text x="350.76" y="1122.7" font-size="18" font-family='"Liberation Serif", serif' font-weight="normal" stroke="#000" stroke-width="0.55" textLength="71.31" lengthAdjust="spacingAndGlyphs">125-150k/ul</text>
<text x="387.66" y="1157.3" font-size="18" font-family='"Liberation Serif", serif' font-weight="normal" stroke="#000" stroke-width="0.55" textLength="46.33" lengthAdjust="spacingAndGlyphs">&lt;75k/ul</text>
<text x="416.09" y="1083.72" font-size="21" font-weight="bold" font-family='"Liberation Sans", sans-serif' letter-spacing="1.49">***</text>
<text x="0.44" y="873.6" font-size="21.5" font-weight="bold" font-family='"Liberation Sans", sans-serif' stroke="#000" stroke-width="0.5">C</text>
</g>
</svg></body></html>
